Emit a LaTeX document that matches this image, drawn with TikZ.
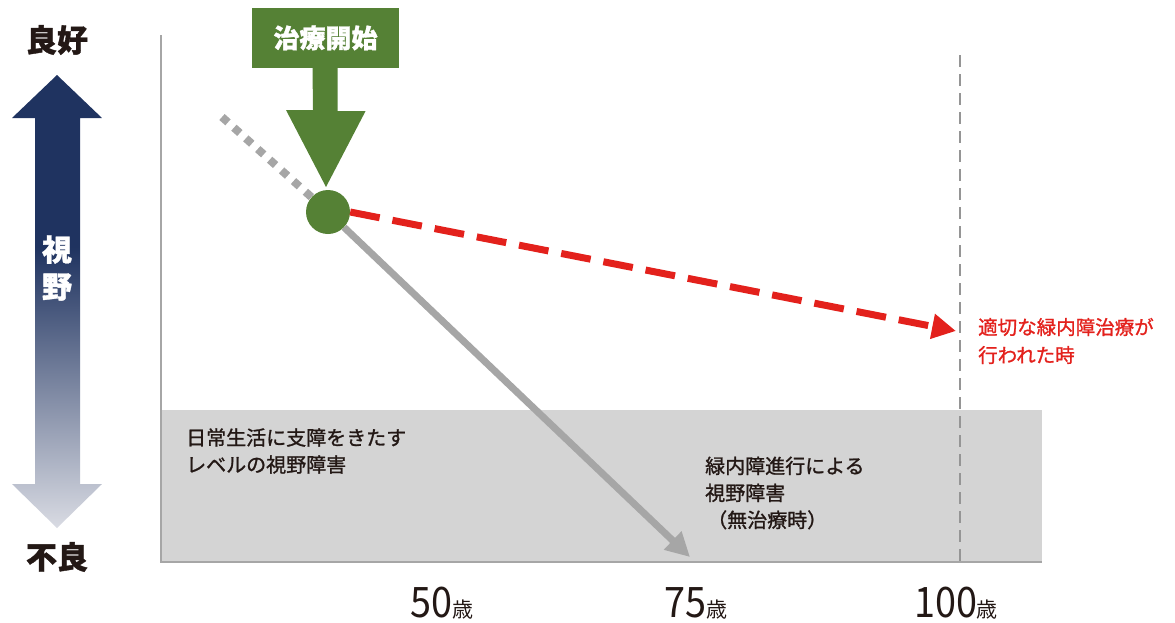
\documentclass[tikz,border=0pt]{standalone}
\usepackage{fontspec}
\setmainfont{Noto Sans CJK JP}[FakeBold=1.2]
\newfontfamily\thinfont{Noto Sans CJK JP}
\usepackage{tikz}
\usetikzlibrary{arrows.meta}
\usetikzlibrary{positioning,calc}
\definecolor{navyblue}{HTML}{1F3360}
\definecolor{navylight}{HTML}{D9DBE3}
\definecolor{treatgreen}{HTML}{558135}
\definecolor{alertred}{HTML}{E3211C}
\definecolor{linegray}{HTML}{A6A6A6}
\definecolor{zonegray}{HTML}{D4D4D4}
\definecolor{inkdark}{HTML}{231815}
\pgfdeclareverticalshading{fieldshade}{100bp}{
    color(0bp)=(navylight); color(25bp)=(navylight);
    color(42bp)=(navyblue!55!navylight); color(56bp)=(navyblue);
    color(100bp)=(navyblue)}
\tikzset{
    axisline/.style={
        draw=linegray,
        line width=1.6pt
    },
    zonetext/.style={
        anchor=west,
        align=left,
        text=inkdark,
        inner sep=0pt,
        font=\fontsize{20}{27}\selectfont
    },
    agelabel/.style={
        anchor=base,
        inner sep=0pt,
        text=inkdark,
        font=\thinfont\fontsize{42}{42}\selectfont
    },
    endlabel/.style={
        anchor=center,
        inner sep=0pt,
        text=inkdark,
        font=\bfseries\fontsize{31}{31}\selectfont
    }
}

\begin{document}
\begin{tikzpicture}[x=1pt, y=-1pt]
    \useasboundingbox (0,0) rectangle (1175,622);

    % Zone of impaired daily life
    \fill[zonegray] (161,410) rectangle (1042,562);
    \draw[axisline] (161,35) -- (161,562) -- (1042,562);

    % 100 years marker
    \draw[linegray!90!black, line width=2.6pt, dash pattern=on 12pt off 7pt] (960,55) -- (960,562);

    % Visual field scale arrow
    \shade[shading=fieldshade]
        (57,75) -- (102,118) -- (80,118) -- (80,484) -- (102,484) -- (57,528)
        -- (12,484) -- (35,484) -- (35,118) -- (12,118) -- cycle;
    \node[text=white, align=center, font=\bfseries\fontsize{30}{37}\selectfont] (field) at (57,268) {視\\野};
    \node[endlabel] (good) at (57,40) {良好};
    \node[endlabel] (poor) at (57,557) {不良};

    % Treatment start
    \node[fill=treatgreen, text=white, minimum width=147pt, minimum height=60pt,
          font=\bfseries\fontsize{26}{26}\selectfont] (start) at (325.5,38) {治療開始};
    \node[circle, fill=treatgreen, minimum size=44pt, inner sep=0pt] (pt) at (328,212) {};
    \coordinate (tip) at (326,187);
    \fill[treatgreen] ($(start.south)+(-13,0)$) -- ($(start.south)+(12,0)$)
        -- ++(0,43) -- ++(28,0) -- (tip) -- ++(-40,-77) -- ++(27,0) -- cycle;

    % Past course
    \coordinate (past) at (222,117);
    \draw[linegray, line width=8pt, dash pattern=on 8pt off 8pt] (past) -- (pt);

    % Course without treatment
    \coordinate (untreated) at (690,557);
    \draw[linegray, line width=7pt, -{Triangle[length=24pt,width=24pt]}]
        (pt) -- (untreated);

    % Course with treatment
    \coordinate (treated) at (956,331);
    \draw[alertred, line width=7pt, dash pattern=on 30pt off 13pt,
          -{Triangle[length=24pt,width=24pt]}] (pt.east) -- (treated);
    \node[zonetext, text=alertred, font=\fontsize{19.5}{28}\selectfont] (okay) at (978,341)
        {適切な緑内障治療が\\行われた時};

    % Texts in the zone
    \node[zonetext] (daily) at (186,451) {日常生活に支障をきたす\\レベルの視野障害};
    \node[zonetext] (loss) at (705,493) {緑内障進行による\\視野障害\\\hspace*{0.1em}（無治療時）};

    % Ages
    \node[agelabel] (age50) at (442,617) {\scalebox{0.9}[1]{50}{\fontsize{21}{21}\selectfont 歳}};
    \node[agelabel] (age75) at (696,617) {\scalebox{0.9}[1]{75}{\fontsize{21}{21}\selectfont 歳}};
    \node[agelabel] (age100) at (956,617) {\scalebox{0.9}[1]{100}{\fontsize{21}{21}\selectfont 歳}};
\end{tikzpicture}
\end{document}
